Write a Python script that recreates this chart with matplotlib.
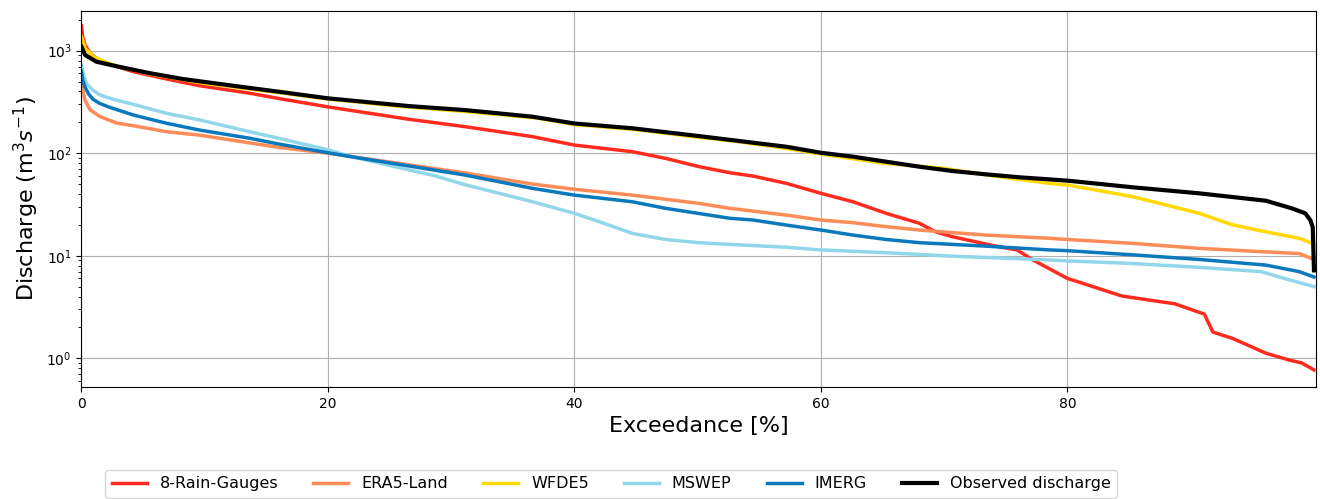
import matplotlib
matplotlib.use("Agg")
import matplotlib.pyplot as plt

# ---- data ----
rain_x = [0, 0.1, 0.3, 0.7, 1.3, 2.3, 4.2, 6.9, 9.6, 13.65, 16, 20, 26.6, 31.2, 36.6, 40, 44.7,
          47.4, 50.1, 52.6, 54.5, 57.2, 60, 62.6, 65.3, 68, 69.3, 70.7, 73.4, 74.5, 75.9, 77.2, 80,
          81.2, 84.4, 86.6, 88.7, 90.7, 91.1, 91.8, 93.4, 96.1, 98, 99, 100]
rain_y = [1742, 1370, 1130, 944, 830, 735, 625, 530, 455, 385, 342, 283, 214, 181, 145, 120, 103.5,
          89, 74, 64.5, 59.8, 50.8, 40.6, 33.6, 25.9, 20.7, 17.1, 15.3, 13, 12.2, 11.4, 9.1, 6.0,
          5.4, 4.05, 3.7, 3.4, 2.8, 2.7, 1.8, 1.56, 1.12, 0.96, 0.90, 0.77]

era_x = [0, 0.1, 0.28, 0.7, 1.5, 2.85, 4.7, 6.9, 9.6, 13.65, 16, 20, 26.6, 31.2, 36.6, 40, 44.7,
         50.1, 52.6, 57.2, 60, 62.6, 65.3, 68, 70.7, 73.4, 78.5, 80, 85.3, 90.7, 96.1, 98.8, 100]
era_y = [560, 420, 331, 265, 228, 197, 181, 162, 150, 126, 114, 100, 77, 64, 50, 44.5, 39,
         32.4, 29, 24.9, 22.3, 21, 19.2, 17.8, 16.8, 15.9, 14.8, 14.4, 13.2, 11.8, 10.9, 10.5, 9.2]

wfde_x = [0, 0.3, 1, 2, 3, 5.5, 10, 16, 20, 26, 31, 37, 40, 45, 50, 53, 57, 60, 65, 70, 74.5, 78.5,
          80, 85.3, 88, 90.7, 93.4, 96.1, 98.8, 100]
wfde_y = [1370, 1050, 870, 770, 700, 595, 480, 390, 337, 285, 256, 220, 190, 170, 143, 131, 112, 98,
          80, 71, 59, 50.8, 49, 37.7, 31.3, 25.9, 20, 17.1, 14.8, 13]

mswep_x = [0, 0.15, 0.4, 0.9, 1.5, 2.6, 4.2, 6.9, 9.6, 13.65, 16, 20, 22, 26.6, 28.5, 31.2, 33.9,
           36.6, 40, 42, 44.7, 47.4, 50.1, 52.6, 57.2, 60, 65.3, 70.7, 78.5, 80, 85.3, 90.7, 95.7,
           97.6, 100]
mswep_y = [725, 590, 480, 415, 370, 335, 300, 245, 211, 162, 140, 108, 92, 68.6, 61, 49, 40.6,
           33.6, 25.9, 21.5, 16.5, 14.4, 13.4, 12.9, 12.1, 11.4, 10.7, 9.9, 9.1, 8.9, 8.4, 7.7, 7.0,
           6.0, 5.0]

imerg_x = [0, 0.1, 0.28, 0.6, 0.95, 1.5, 2.3, 4.2, 6.9, 9.6, 13.65, 16, 20, 22, 26.6, 31.2, 36.6,
           40, 44.7, 47.4, 52.6, 54.5, 57.2, 60, 62.6, 65.3, 68, 70.7, 73.4, 78.5, 80, 85.3, 90.7,
           96.1, 98.8, 100]
imerg_y = [624, 520, 445, 375, 335, 305, 280, 236, 196, 168, 140, 123, 101, 92, 75, 61, 45.4,
           39, 33.6, 29, 23.2, 22.3, 19.9, 17.8, 15.9, 14.4, 13.4, 12.9, 12.4, 11.4, 11.2, 10.2, 9.2,
           8.1, 7.0, 6.2]

obs_x = [0, 0.3, 1.2, 2.85, 5.5, 8.2, 12.3, 16, 20, 26.6, 31.2, 36.6, 40, 44.7, 50.1, 52.6, 57.2,
         60, 62.6, 65.3, 68, 70.7, 73.4, 76.1, 78.5, 80, 85.3, 90.7, 96.1, 98.2, 99.3, 99.7, 99.9, 100]
obs_y = [1094, 908, 782, 705, 605, 530, 455, 398, 343, 288, 263, 227, 195, 175, 147, 135, 115.6,
         101, 92.5, 82.6, 73.8, 67, 62.2, 58.2, 55.6, 54, 46.5, 40.6, 34.4, 29, 25.9, 22.3, 19, 7.2]

x_ticks = [0, 20, 40, 60, 80]

series = [
    ("8-Rain-Gauges", rain_x, rain_y, "#ff2b1f", 2.5),
    ("ERA5-Land", era_x, era_y, "#fd8c58", 2.5),
    ("WFDE5", wfde_x, wfde_y, "#ffd900", 2.5),
    ("MSWEP", mswep_x, mswep_y, "#92d6ea", 2.5),
    ("IMERG", imerg_x, imerg_y, "#0a78bd", 2.5),
    ("Observed discharge", obs_x, obs_y, "#000000", 3.0),
]

fig = plt.figure(figsize=(13.2, 4.99), dpi=100)
ax = fig.add_axes([0.0617, 0.2244, 0.9356, 0.7536])

for name, xs, ys, col, lw in series:
    ax.plot(xs, ys, color=col, lw=lw, label=name)

ax.set_yscale("log")
ax.set_xlim(0, 100.2)
ax.set_xticks(x_ticks)
ax.set_ylim(0.524, 2440)
ax.grid(True, which="major", color="#b0b0b0", lw=0.8)
ax.tick_params(labelsize=10)
ax.set_xlabel("Exceedance [%]", fontsize=16)
ax.set_ylabel("Discharge (m$^3 s^{-1}$)", fontsize=16)

fig.legend(loc="upper center", bbox_to_anchor=(0.463, 0.074), ncol=6, fontsize=11.5,
           frameon=True, handlelength=2.2, columnspacing=2.2)

fig.savefig("out.png", dpi=100)
